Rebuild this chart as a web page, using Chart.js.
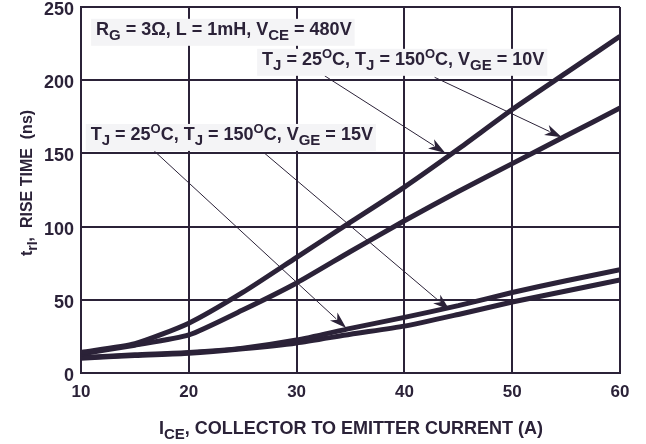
<!DOCTYPE html>
<html>
<head>
<meta charset="utf-8">
<script src="https://cdn.jsdelivr.net/npm/chart.js@4"></script>
<style>
  body { margin: 0; background: #fff; }
  canvas { display: block; }
</style>
</head>
<body>
<canvas id="chart-area" width="646" height="444"></canvas>
<script>
// collector current (A)
var current = [10, 15, 20, 25, 30, 35, 40, 45, 50, 55, 60];
// rise time (ns)
var riseA = [14, 20, 34, 55, 79, 103, 127, 153, 180, 205, 230];
var riseB = [13, 19, 26, 43, 61.5, 83, 104, 124, 143, 162, 181];
var riseC = [10.5, 12.5, 14, 17, 22.5, 30.5, 38, 46, 55, 63, 70.5];
var riseD = [10, 12, 13.5, 16.5, 20.5, 26.5, 32, 40, 48.5, 56, 63.5];
var xTicks = [10, 20, 30, 40, 50, 60];
var yTicks = [0, 50, 100, 150, 200, 250];

var ink = '#2b2238';
var font = '"Liberation Sans", Arial, sans-serif';

function pts(ys) {
	return current.map(function (x, i) { return { x: x, y: ys[i] }; });
}

// text with sub / superscripts
function richWidth(ctx, parts, size) {
	var w = 0;
	parts.forEach(function (p) {
		if (typeof p == 'string') { ctx.font = 'bold ' + size + 'px ' + font; w += ctx.measureText(p).width; }
		else if (p.sub) { ctx.font = 'bold ' + Math.round(size * 0.85) + 'px ' + font; w += ctx.measureText(p.sub).width; }
		else { ctx.font = 'bold ' + Math.round(size * 0.7) + 'px ' + font; w += ctx.measureText(p.sup).width; }
	});
	return w;
}

function drawRich(ctx, parts, x, y, size) {
	ctx.textBaseline = 'alphabetic';
	ctx.textAlign = 'left';
	parts.forEach(function (p) {
		if (typeof p == 'string') {
			ctx.font = 'bold ' + size + 'px ' + font;
			ctx.fillText(p, x, y);
			x += ctx.measureText(p).width;
		} else if (p.sub) {
			ctx.font = 'bold ' + Math.round(size * 0.85) + 'px ' + font;
			ctx.fillText(p.sub, x, y + size * 0.3);
			x += ctx.measureText(p.sub).width;
		} else {
			ctx.font = 'bold ' + Math.round(size * 0.7) + 'px ' + font;
			ctx.fillText(p.sup, x, y - size * 0.4);
			x += ctx.measureText(p.sup).width;
		}
	});
}

var notes = [
	{ parts: ['R', { sub: 'G' }, ' = 3\u03A9, L = 1mH, V', { sub: 'CE' }, ' = 480V'], x: 11.4, y: 231 },
	{ parts: ['T', { sub: 'J' }, ' = 25', { sup: 'O' }, 'C, T', { sub: 'J' }, ' = 150', { sup: 'O' }, 'C, V', { sub: 'GE' }, ' = 10V'], x: 26.8, y: 210.5 },
	{ parts: ['T', { sub: 'J' }, ' = 25', { sup: 'O' }, 'C, T', { sub: 'J' }, ' = 150', { sup: 'O' }, 'C, V', { sub: 'GE' }, ' = 15V'], x: 10.9, y: 159.2 }
];

var arrows = [
	{ from: [32.6, 203], to: [43.8, 150.3] },
	{ from: [42.8, 202], to: [54.6, 161] },
	{ from: [16.8, 151.6], to: [34.6, 30.7] },
	{ from: [27.0, 150.3], to: [44.2, 43] }
];

var annotate = {
	id: 'annotate',
	afterDatasetsDraw: function (chart) {
		var ctx = chart.ctx, xs = chart.scales.x, ys = chart.scales.y;
		ctx.save();
		ctx.fillStyle = ink;
		ctx.strokeStyle = ink;
		arrows.forEach(function (a) {
			var x1 = xs.getPixelForValue(a.from[0]), y1 = ys.getPixelForValue(a.from[1]);
			var x2 = xs.getPixelForValue(a.to[0]), y2 = ys.getPixelForValue(a.to[1]);
			var ang = Math.atan2(y2 - y1, x2 - x1), len = 17, half = 5.5;
			var c = Math.cos(ang), s = Math.sin(ang);
			ctx.lineWidth = 1;
			ctx.beginPath();
			ctx.moveTo(x1, y1);
			ctx.lineTo(x2 - c * len * 0.8, y2 - s * len * 0.8);
			ctx.stroke();
			ctx.beginPath();
			ctx.moveTo(x2, y2);
			ctx.lineTo(x2 - c * len - s * half, y2 - s * len + c * half);
			ctx.lineTo(x2 - c * len * 0.72, y2 - s * len * 0.72);
			ctx.lineTo(x2 - c * len + s * half, y2 - s * len - c * half);
			ctx.closePath();
			ctx.fill();
		});
		notes.forEach(function (n) {
			var x = xs.getPixelForValue(n.x), y = ys.getPixelForValue(n.y);
			var w = richWidth(ctx, n.parts, 18);
			ctx.fillStyle = '#f4f4f6';
			ctx.fillRect(x - 5, y - 16, w + 8, 27);
			ctx.fillStyle = ink;
			drawRich(ctx, n.parts, x, y, 18);
		});
		ctx.restore();
	},
	afterDraw: function (chart) {
		var ctx = chart.ctx;
		ctx.save();
		ctx.fillStyle = ink;
		var xt = ['I', { sub: 'CE' }, ', COLLECTOR TO EMITTER CURRENT (A)'];
		var w = richWidth(ctx, xt, 18);
		drawRich(ctx, xt, 351 - w / 2, 434, 18);
		var yt = ['t', { sub: 'rI' }, ',  RISE TIME  (ns)'];
		w = richWidth(ctx, yt, 16);
		ctx.translate(32, 183);
		ctx.rotate(-Math.PI / 2);
		drawRich(ctx, yt, -w / 2, 0, 16);
		ctx.restore();
	}
};

function line(ys) {
	return {
		data: pts(ys),
		borderColor: ink,
		borderWidth: 5,
		pointRadius: 0,
		tension: 0.2,
		fill: false
	};
}

var myLine = new Chart(document.getElementById('chart-area'), {
	type: 'line',
	data: {
		datasets: [line(riseA), line(riseB), line(riseC), line(riseD)]
	},
	options: {
		responsive: false,
		animation: false,
		layout: { padding: { top: 7, right: 26, left: 0, bottom: 0 } },
		plugins: { legend: { display: false }, tooltip: { enabled: false } },
		scales: {
			x: {
				type: 'linear',
				min: 10, max: 60,
				afterFit: function (s) { s.height = 71; },
				afterBuildTicks: function (s) { s.ticks = xTicks.map(function (v) { return { value: v }; }); },
				grid: { color: ink, lineWidth: 2, drawTicks: false },
				border: { color: ink, width: 2 },
				ticks: { color: ink, padding: 9, maxRotation: 0, font: { family: font, size: 17, weight: 'bold' } }
			},
			y: {
				min: 0, max: 250,
				afterFit: function (s) { s.width = 81; s.paddingTop = 0; s.paddingBottom = 0; },
				afterBuildTicks: function (s) { s.ticks = yTicks.map(function (v) { return { value: v }; }); },
				grid: { color: ink, lineWidth: 2, drawTicks: false },
				border: { color: ink, width: 2 },
				ticks: { color: ink, padding: 7, labelOffset: 3, font: { family: font, size: 18, weight: 'bold' } }
			}
		}
	},
	plugins: [annotate]
});
</script>
</body>
</html>
